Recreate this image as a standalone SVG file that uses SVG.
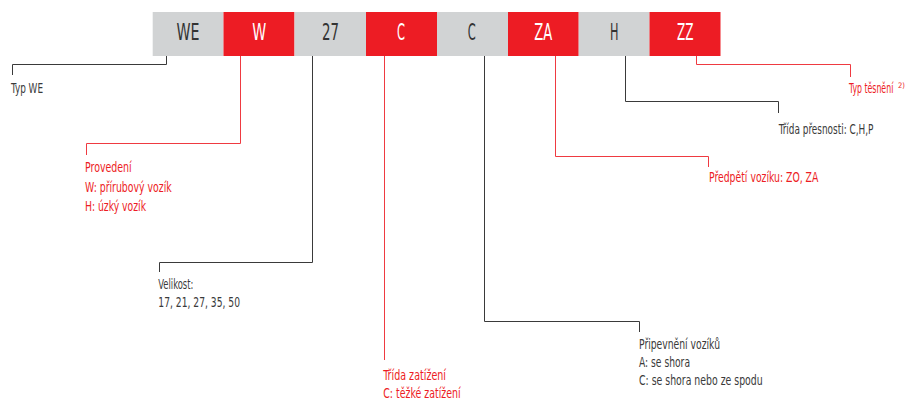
<svg xmlns="http://www.w3.org/2000/svg" width="913" height="399" viewBox="0 0 913 399">
<style>
.g{fill:#d1d3d4}
.r{fill:#ed1c24}
.bt{font-family:"Liberation Sans Narrow","DejaVu Sans Condensed","Liberation Sans",sans-serif;font-size:23.5px;text-anchor:middle}
.bd{fill:#333333}
.bw{fill:#ffffff}
.lt{font-family:"Liberation Sans Narrow","DejaVu Sans Condensed","Liberation Sans",sans-serif;font-size:14.5px}
.ld{fill:#3a3a3a}
.lr{fill:#ed1c24}
.cd{fill:none;stroke:#3a3a3a;stroke-width:1}
.cr{fill:none;stroke:#ef3a41;stroke-width:1}
</style>
<g id="connectors">
<path class="cd" d="M166.5 56 V64.5 H12.5 V75"/>
<path class="cr" d="M240.5 56 V143.5 H86.5 V155"/>
<path class="cd" d="M312.5 56 V262.5 H159.5 V272"/>
<path class="cr" d="M384.5 56 V360"/>
<path class="cd" d="M484.5 56 V321.5 H639.5 V332"/>
<path class="cr" d="M555.5 56 V156.5 H708.5 V167"/>
<path class="cd" d="M625.5 56 V101.5 H778.5 V113"/>
<path class="cr" d="M696.5 56 V64.5 H850.5 V77"/>
</g>
<g id="box-we"><rect class="g" x="152.7" y="12" width="70.8" height="44"/><text class="bt bd" x="188" y="39.5" textLength="23" lengthAdjust="spacingAndGlyphs">WE</text></g>
<g id="box-w"><rect class="r" x="223.5" y="12" width="71" height="44"/><text class="bt bw" x="259.2" y="39.5" textLength="14" lengthAdjust="spacingAndGlyphs">W</text></g>
<g id="box-27"><rect class="g" x="294.5" y="12" width="71.5" height="44"/><text class="bt bd" x="330.6" y="39.5" textLength="17" lengthAdjust="spacingAndGlyphs">27</text></g>
<g id="box-c1"><rect class="r" x="366" y="12" width="71" height="44"/><text class="bt bw" x="401" y="39.5" textLength="8" lengthAdjust="spacingAndGlyphs">C</text></g>
<g id="box-c2"><rect class="g" x="437" y="12" width="71" height="44"/><text class="bt bd" x="471.8" y="39.5" textLength="8" lengthAdjust="spacingAndGlyphs">C</text></g>
<g id="box-za"><rect class="r" x="508" y="12" width="70.7" height="44"/><text class="bt bw" x="543.2" y="39.5" textLength="18" lengthAdjust="spacingAndGlyphs">ZA</text></g>
<g id="box-h"><rect class="g" x="578.7" y="12" width="70.8" height="44"/><text class="bt bd" x="614.2" y="39.5" textLength="8.5" lengthAdjust="spacingAndGlyphs">H</text></g>
<g id="box-zz"><rect class="r" x="649.5" y="12" width="71" height="44"/><text class="bt bw" x="685.2" y="39.5" textLength="16.5" lengthAdjust="spacingAndGlyphs">ZZ</text></g>
<g id="label-typ-we"><text class="lt ld" x="11" y="92.5" textLength="32" lengthAdjust="spacingAndGlyphs">Typ WE</text></g>
<g id="label-provedeni" class="lt lr">
<text x="85" y="172" textLength="46.7" lengthAdjust="spacingAndGlyphs">Provedení</text>
<text x="85" y="191.5" textLength="86.7" lengthAdjust="spacingAndGlyphs">W: přírubový vozík</text>
<text x="85" y="211" textLength="61" lengthAdjust="spacingAndGlyphs">H: úzký vozík</text>
</g>
<g id="label-velikost" class="lt ld">
<text x="158.3" y="289.3" textLength="35" lengthAdjust="spacingAndGlyphs">Velikost:</text>
<text x="158.3" y="306.7" textLength="81.7" lengthAdjust="spacingAndGlyphs">17, 21, 27, 35, 50</text>
</g>
<g id="label-trida-zatizeni" class="lt lr">
<text x="383.3" y="380" textLength="62.7" lengthAdjust="spacingAndGlyphs">Třída zatížení</text>
<text x="383.3" y="397.5" textLength="77.3" lengthAdjust="spacingAndGlyphs">C: těžké zatížení</text>
</g>
<g id="label-pripevneni" class="lt ld">
<text x="639" y="349" textLength="81" lengthAdjust="spacingAndGlyphs">Připevnění vozíků</text>
<text x="639" y="367.3" textLength="51" lengthAdjust="spacingAndGlyphs">A: se shora</text>
<text x="639" y="385.3" textLength="123.7" lengthAdjust="spacingAndGlyphs">C: se shora nebo ze spodu</text>
</g>
<g id="label-predpeti"><text class="lt lr" x="709" y="181.7" textLength="109.3" lengthAdjust="spacingAndGlyphs">Předpětí vozíku: ZO, ZA</text></g>
<g id="label-trida-presnosti"><text class="lt ld" x="778.7" y="134" textLength="94.7" lengthAdjust="spacingAndGlyphs">Třída přesnosti: C,H,P</text></g>
<g id="label-typ-tesneni"><text class="lt lr" x="849" y="93.3"><tspan textLength="44.3" lengthAdjust="spacingAndGlyphs">Typ těsnění</tspan><tspan x="898" y="87.5" font-size="7.5" textLength="7" lengthAdjust="spacingAndGlyphs">2)</tspan></text></g>
</svg>
